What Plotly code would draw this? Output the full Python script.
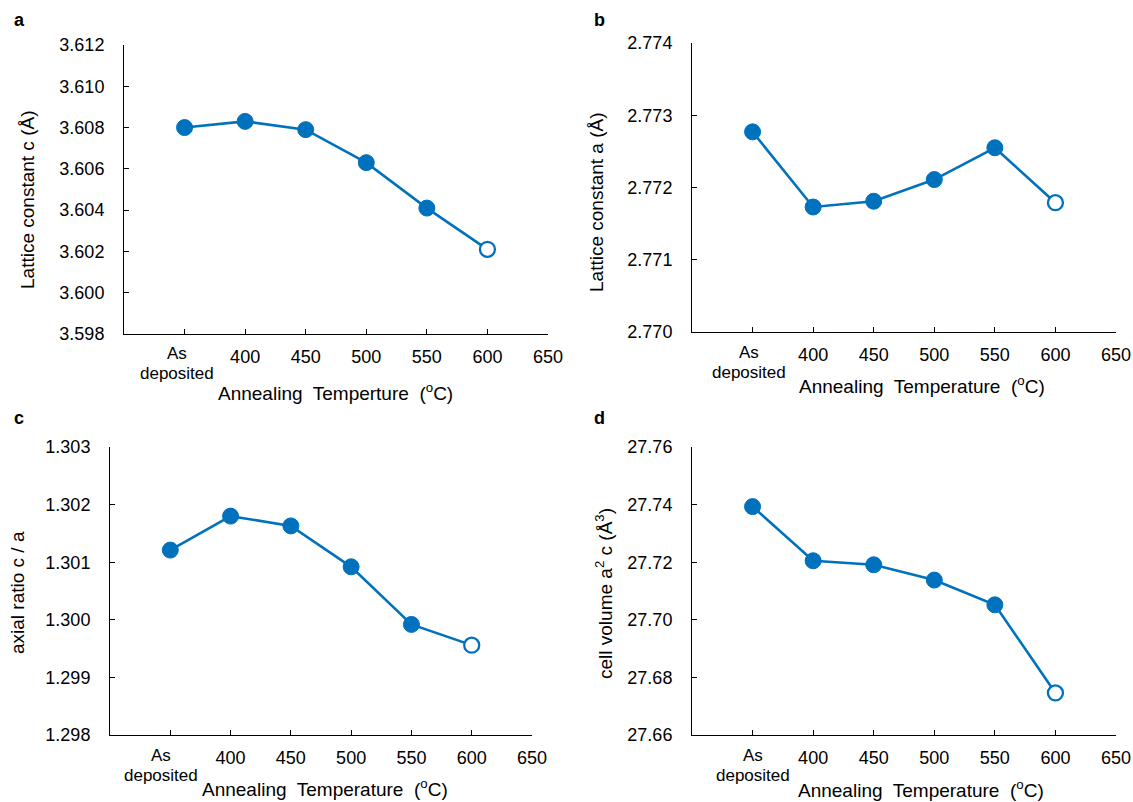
import plotly.graph_objects as go

# ---- data ----
temps = [350, 400, 450, 500, 550, 600]          # 350 = "As deposited" slot
x_tickvals = [400, 450, 500, 550, 600, 650]
x_ticktext = ["400", "450", "500", "550", "600", "650"]
x_unlabeled_ticks = [300, 350]
first_label = ["As", "deposited"]

lattice_c = [3.6080, 3.6083, 3.6079, 3.6063, 3.6041, 3.6021]
lattice_a = [2.77277, 2.77173, 2.77181, 2.77211, 2.77255, 2.77179]
axial_ratio = [1.30121, 1.30180, 1.30163, 1.30092, 1.29992, 1.29956]
cell_volume = [27.7393, 27.7205, 27.7191, 27.7138, 27.7052, 27.6746]

BLUE = "#0072BD"
W, H = 1133, 802
FONT = "Liberation Sans, Arial, Helvetica, sans-serif"

fig = go.Figure()

def px_x(a, b):
    return [a / W, b / W]

def px_y(top, bottom):
    return [1 - bottom / H, 1 - top / H]

panels = [
    # values, x id, y id, x domain px, y domain px, y range, dtick, format, label shift
    (lattice_c, "x", "y", (124, 548), (45, 334), [3.598, 3.612], 0.002, ".3f", -8),
    (lattice_a, "x2", "y2", (692, 1116), (43, 332), [2.770, 2.774], 0.001, ".3f", -4),
    (axial_ratio, "x3", "y3", (110, 532), (447, 735), [1.298, 1.303], 0.001, ".3f", -9),
    (cell_volume, "x4", "y4", (692, 1116), (447, 735), [27.66, 27.76], 0.02, ".2f", 0),
]

ann = []
def txt(x, y, s, size=19, angle=0, xref="paper", xshift=0):
    ann.append(dict(x=(x / W if xref == "paper" else x), y=1 - y / H,
                    xref=xref, yref="paper", text=s, xshift=xshift,
                    showarrow=False, textangle=angle, xanchor="center", yanchor="middle",
                    font=dict(family=FONT, size=size, color="black")))

for i, (vals, xa, ya, xd, yd, yr, dt, fmt, shift) in enumerate(panels):
    fig.add_trace(go.Scatter(
        x=temps, y=vals, xaxis=xa, yaxis=ya, mode="lines+markers",
        line=dict(color=BLUE, width=2.6),
        marker=dict(size=[16] * 5 + [15], color=[BLUE] * 5 + ["white"], opacity=1,
                    line=dict(color=BLUE, width=[1] * 5 + [2.3]), symbol="circle"),
        cliponaxis=False, showlegend=False,
    ))
    suffix = "" if i == 0 else str(i + 1)
    common = dict(showline=True, linecolor="black", linewidth=1, showgrid=False,
                  zeroline=False, ticks="inside", ticklen=5, tickcolor="black",
                  tickwidth=1, tickfont=dict(family=FONT, size=18, color="black"),
                  mirror=False, automargin=False)
    fig.update_layout(**{
        "xaxis" + suffix: dict(domain=px_x(*xd), range=[300, 650], tickmode="array",
                               tickvals=x_tickvals, ticktext=x_ticktext,
                               minor=dict(tickmode="array", tickvals=x_unlabeled_ticks,
                                          ticks="inside", ticklen=5, tickcolor="black",
                                          tickwidth=1, showgrid=False),
                               anchor="y" + suffix, ticklabelstandoff=6, **common),
        "yaxis" + suffix: dict(domain=px_y(*yd), range=yr, dtick=dt, tick0=yr[0],
                               tickformat=fmt, anchor="x" + suffix,
                               ticklabelstandoff=15, **common),
    })
    # two-line label of the "As deposited" slot
    txt(temps[0], yd[1] + 20, first_label[0], size=17, xref=xa, xshift=shift)
    txt(temps[0], yd[1] + 40, first_label[1], size=17, xref=xa, xshift=shift)

# panel letters
for (x, y, s) in [(19, 20, "a"), (599, 20, "b"), (19, 418, "c"), (599, 418, "d")]:
    txt(x, y, "<b>" + s + "</b>", size=18)

# x-axis titles
txt(336, 392, "Annealing  Temperture  (<sup>o</sup>C)")
txt(922, 385, "Annealing  Temperature  (<sup>o</sup>C)")
txt(325, 788, "Annealing  Temperature  (<sup>o</sup>C)")
txt(921, 789, "Annealing  Temperature  (<sup>o</sup>C)")

# y-axis titles
txt(27, 200, "Lattice constant c (Å)", angle=-90)
txt(597, 202, "Lattice constant a (Å)", angle=-90)
txt(17, 593, "axial ratio c / a", angle=-90)
txt(604, 594, "cell volume a<sup>2</sup> c (Å<sup>3</sup>)", angle=-90)

fig.update_layout(
    template="none",
    width=W, height=H, margin=dict(l=0, r=0, t=0, b=0, pad=0, autoexpand=False),
    paper_bgcolor="white", plot_bgcolor="white",
    font=dict(family=FONT, size=18, color="black"),
    annotations=ann,
)

fig.write_html("out.html", config={"displayModeBar": False},
               post_script="document.body.style.margin='0';document.body.style.overflow='hidden';")
